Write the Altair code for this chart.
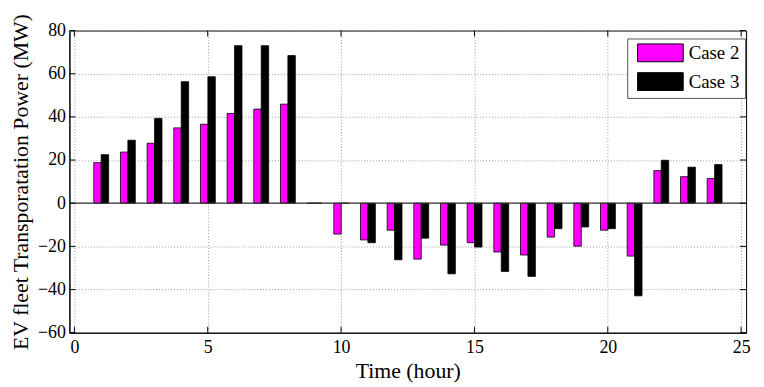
import altair as alt
import pandas as pd

hours = list(range(1, 25))
case2 = [18.8, 23.7, 27.8, 34.9, 36.6, 41.6, 43.6, 45.9, 0, -14.3, -17.0, -12.5,
         -25.9, -19.4, -18.3, -22.6, -24.0, -15.7, -19.9, -12.5, -24.5, 15.1, 12.3, 11.5]
case3 = [22.5, 29.2, 39.3, 56.3, 58.6, 73.0, 73.0, 68.4, 0, 0, -18.3, -26.2,
         -16.2, -32.7, -20.3, -31.6, -33.9, -11.8, -11.0, -11.8, -42.9, 19.9, 16.7, 17.9]
series = ["Case 2", "Case 3"]
colors = ["#FF00FF", "#000000"]
x_ticks = [0, 5, 10, 15, 20, 25]
y_ticks = [-60, -40, -20, 0, 20, 40, 60, 80]

W, H = 683, 305
FONT = "Liberation Serif"

df = pd.DataFrame({
    "hour": hours * 2,
    "value": case2 + case3,
    "series": [series[0]] * len(hours) + [series[1]] * len(hours),
})
xt = pd.DataFrame({"t": x_ticks})
yt = pd.DataFrame({"t": y_ticks})

xscale = alt.Scale(domain=[0, 25], nice=False, zero=False)
yscale = alt.Scale(domain=[-60, 80], nice=False)

color = alt.Color(
    "series:N",
    scale=alt.Scale(domain=series, range=colors),
    legend=alt.Legend(
        title=None, orient="none", legendX=563, legendY=8,
        symbolType="M-2.56,-1H2.56V1H-2.56Z", symbolSize=324, symbolOffset=19,
        symbolStrokeColor="black", symbolStrokeWidth=1, symbolOpacity=1,
        labelFont=FONT, labelFontSize=19, labelColor="black", labelOffset=19,
        strokeColor="#555555", fillColor="white", padding=5, rowPadding=6,
        labelLimit=200,
    ),
)

xaxis = alt.Axis(values=x_ticks, title="Time (hour)", grid=True, gridColor="#999999",
                 gridDash=[1, 2], gridWidth=1, ticks=False, domainColor="black",
                 labelFont=FONT, labelFontSize=18, labelColor="black", labelPadding=6,
                 titleFont=FONT, titleFontSize=22, titleFontWeight="normal",
                 titleColor="black", titlePadding=4, labelFlush=False)
yaxis = alt.Axis(values=y_ticks, title="EV fleet Transporatation Power (MW)", grid=True,
                 gridColor="#999999", gridDash=[1, 2], gridWidth=1, ticks=False,
                 domainColor="black", labelFont=FONT, labelFontSize=18, labelColor="black",
                 labelPadding=4, titleFont=FONT, titleFontSize=22, titleFontWeight="normal",
                 titleColor="black", titlePadding=5)

base = alt.Chart(df)
bars2 = base.transform_filter(alt.datum.series == series[0]).mark_bar(
    width=7.5, xOffset=-3.6, stroke="black", strokeWidth=0.8, opacity=1
).encode(
    x=alt.X("hour:Q", scale=xscale, axis=xaxis),
    y=alt.Y("value:Q", scale=yscale, axis=yaxis),
    color=color,
)
bars3 = base.transform_filter(alt.datum.series == series[1]).mark_bar(
    width=7.5, xOffset=3.9, stroke="black", strokeWidth=0.8, opacity=1
).encode(
    x=alt.X("hour:Q", scale=xscale),
    y=alt.Y("value:Q", scale=yscale),
    color=color,
)

zero = alt.Chart(pd.DataFrame({"v": [0]})).mark_rule(color="#333333", strokeWidth=1.2).encode(
    y=alt.Y("v:Q", scale=yscale), x=alt.value(0), x2=alt.value(W)
)

tick_style = dict(color="black", strokeWidth=1)
top_ticks = alt.Chart(xt).mark_rule(**tick_style).encode(
    x=alt.X("t:Q", scale=xscale), y=alt.value(0), y2=alt.value(6))
bot_ticks = alt.Chart(xt).mark_rule(**tick_style).encode(
    x=alt.X("t:Q", scale=xscale), y=alt.value(H), y2=alt.value(H - 6))
left_ticks = alt.Chart(yt).mark_rule(**tick_style).encode(
    y=alt.Y("t:Q", scale=yscale), x=alt.value(0), x2=alt.value(6))
right_ticks = alt.Chart(yt).mark_rule(**tick_style).encode(
    y=alt.Y("t:Q", scale=yscale), x=alt.value(W), x2=alt.value(W - 6))

chart = alt.layer(
    bars2, bars3, zero, top_ticks, bot_ticks, left_ticks, right_ticks
).properties(
    width=W, height=H,
    autosize=alt.AutoSizeParams(type="none"),
    padding={"left": 62, "top": 21, "right": 10, "bottom": 50},
).configure(
    background="white", font=FONT
).configure_view(
    stroke="black", strokeWidth=1
).configure_axis(
    labelFont=FONT, titleFont=FONT
).configure_legend(
    labelFont=FONT
)

chart.save("out.html", embed_options={"renderer": "svg", "actions": False})
